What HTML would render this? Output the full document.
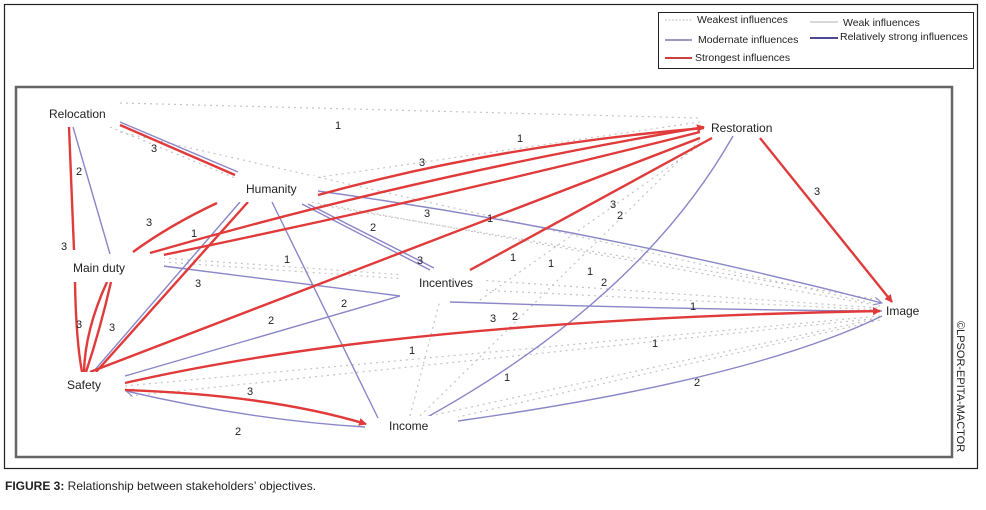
<!DOCTYPE html>
<html><head><meta charset="utf-8"><style>
html,body{margin:0;padding:0;background:#fff;}
svg{display:block;font-family:"Liberation Sans",sans-serif;}
</style></head><body>
<svg width="986" height="510" viewBox="0 0 986 510" xmlns="http://www.w3.org/2000/svg">
<defs>
<marker id="ar" markerWidth="8" markerHeight="8" refX="7" refY="4" orient="auto" markerUnits="userSpaceOnUse"><path d="M0,0 L8,4 L0,8 z" fill="#e03a3a"/></marker>
<marker id="ab" markerWidth="9" markerHeight="8" refX="8" refY="4" orient="auto" markerUnits="userSpaceOnUse"><path d="M0,0 L8,4 L0,8" fill="none" stroke="#8a86c8" stroke-width="1"/></marker>
</defs>
<rect x="4.5" y="4.5" width="973" height="464" fill="#fff" stroke="#222" stroke-width="1.2"/>
<rect x="16" y="87" width="936" height="370" fill="#fff" stroke="#666" stroke-width="2.5"/>
<rect x="658.5" y="12.5" width="315" height="56" fill="#fff" stroke="#222" stroke-width="1"/>
<g font-size="10.5" fill="#222">
<line x1="665" y1="20" x2="692" y2="20" stroke="#bbb" stroke-dasharray="2,1.5"/><text x="697" y="23">Weakest influences</text>
<line x1="810" y1="22" x2="838" y2="22" stroke="#ccc" stroke-width="1.5"/><text x="843" y="26">Weak influences</text>
<line x1="665" y1="40" x2="692" y2="40" stroke="#7878b0" stroke-width="1.5"/><text x="698" y="43">Modernate influences</text>
<line x1="810" y1="38" x2="838" y2="38" stroke="#4a4a90" stroke-width="2"/><text x="840" y="40">Relatively strong influences</text>
<line x1="665" y1="58" x2="692" y2="58" stroke="#c84040" stroke-width="2"/><text x="695" y="61">Strongest influences</text>
</g>
<g stroke="#c4c4c4" stroke-width="1.2" stroke-dasharray="2,4" fill="none">
<path d="M120,103 L700,118"/>
<path d="M110,127 L240,180"/>
<path d="M120,132 L880,305"/>
<path d="M300,180 L700,122"/>
<path d="M163,258 L880,308"/>
<path d="M163,262 L420,280"/>
<path d="M320,205 L880,300"/>
<path d="M480,290 L880,310"/>
<path d="M125,386 L880,316"/>
<path d="M130,396 L880,318"/>
<path d="M410,416 L440,300"/>
<path d="M420,416 L700,140"/>
<path d="M430,416 L880,318"/>
<path d="M445,420 L880,320"/>
<path d="M480,300 L700,145"/>
<path d="M300,200 L880,306"/>
</g>
<g stroke="#8a86c8" stroke-width="1.4" fill="none">
<path d="M120,122 L238,172"/>
<path d="M73,127 L110,254"/>
<path d="M240,202 L93,372"/>
<path d="M272,202 L378,418"/>
<path d="M302,204 L430,270"/>
<path d="M308,204 L434,268"/>
<path d="M318,191 Q600,230 882,303" marker-end="url(#ab)"/>
<path d="M163,266 L400,296"/>
<path d="M125,376 L400,296"/>
<path d="M450,302 Q700,310 882,311"/>
<path d="M733,136 Q640,300 422,420"/>
<path d="M458,421 Q750,380 882,316"/>
<path d="M365,427 Q250,420 126,391" marker-end="url(#ab)"/>
</g>
<g stroke="#e03a3a" stroke-width="2.4" fill="none">
<path d="M120,125 L235,175"/>
<path d="M69,127 L74,250"/>
<path d="M75,282 Q76,340 82,372"/>
<path d="M107,282 Q85,330 84,372"/>
<path d="M111,282 Q100,330 86,372"/>
<path d="M133,252 Q170,225 217,203"/>
<path d="M150,253 Q420,175 704,127" marker-end="url(#ar)"/>
<path d="M163,255 Q430,200 700,132"/>
<path d="M318,195 Q500,145 704,128"/>
<path d="M90,372 L700,138"/>
<path d="M470,270 L712,138"/>
<path d="M248,202 Q160,300 96,372"/>
<path d="M760,138 L892,302" marker-end="url(#ar)"/>
<path d="M125,383 Q400,320 880,311" marker-end="url(#ar)"/>
<path d="M125,390 Q270,395 366,424" marker-end="url(#ar)"/>
</g>
<g font-size="12" fill="#222">
<rect x="44" y="102" width="66" height="20" fill="#fff"/>
<text x="49" y="118">Relocation</text>
<rect x="238" y="176" width="78" height="26" fill="#fff"/>
<text x="246" y="193">Humanity</text>
<rect x="68" y="254" width="96" height="28" fill="#fff"/>
<text x="73" y="272">Main duty</text>
<rect x="62" y="372" width="62" height="28" fill="#fff"/>
<text x="67" y="389">Safety</text>
<rect x="402" y="272" width="82" height="26" fill="#fff"/>
<text x="419" y="287">Incentives</text>
<rect x="384" y="416" width="74" height="20" fill="#fff"/>
<text x="389" y="430">Income</text>
<rect x="708" y="118" width="70" height="18" fill="#fff"/>
<text x="711" y="132">Restoration</text>
<text x="886" y="315">Image</text>
</g>
<g font-size="11" fill="#222">
<text x="335" y="129">1</text>
<text x="151" y="152">3</text>
<text x="76" y="175">2</text>
<text x="61" y="250">3</text>
<text x="146" y="226">3</text>
<text x="191" y="237">1</text>
<text x="419" y="166">3</text>
<text x="517" y="142">1</text>
<text x="424" y="217">3</text>
<text x="370" y="231">2</text>
<text x="487" y="222">1</text>
<text x="284" y="263">1</text>
<text x="195" y="287">3</text>
<text x="417" y="264">3</text>
<text x="610" y="208">3</text>
<text x="617" y="219">2</text>
<text x="510" y="261">1</text>
<text x="548" y="267">1</text>
<text x="587" y="275">1</text>
<text x="601" y="286">2</text>
<text x="341" y="307">2</text>
<text x="268" y="324">2</text>
<text x="76" y="328">3</text>
<text x="109" y="331">3</text>
<text x="490" y="322">3</text>
<text x="512" y="320">2</text>
<text x="690" y="310">1</text>
<text x="409" y="354">1</text>
<text x="652" y="347">1</text>
<text x="504" y="381">1</text>
<text x="694" y="386">2</text>
<text x="247" y="395">3</text>
<text x="235" y="435">2</text>
<text x="814" y="195">3</text>
</g>
<text transform="translate(957,321) rotate(90)" font-size="11" fill="#222">©LPSOR-EPITA-MACTOR</text>
<text x="5" y="490" font-size="12" fill="#222"><tspan font-weight="bold">FIGURE 3:</tspan> Relationship between stakeholders’ objectives.</text>
</svg>
</body></html>
